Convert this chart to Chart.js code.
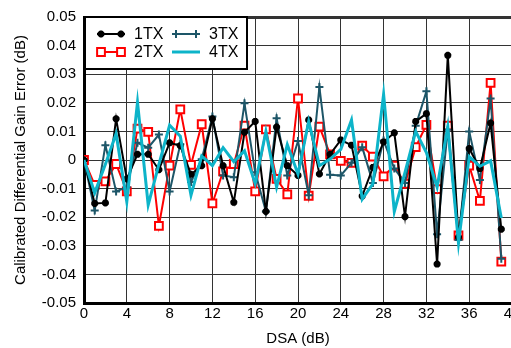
<!DOCTYPE html>
<html>
<head>
<meta charset="utf-8">
<script src="https://cdn.jsdelivr.net/npm/chart.js@4"></script>
<style>
  html, body { margin: 0; padding: 0; background: #fff; }
  #wrap { width: 511px; height: 348px; overflow: hidden; position: relative; }
  #box { width: 530px; height: 348px; }
</style>
</head>
<body>
<div id="wrap"><div id="box"><canvas id="mychart"></canvas></div></div>
<script>
// DSA steps (dB)
let dsa = [0,1,2,3,4,5,6,7,8,9,10,11,12,13,14,15,16,17,18,19,20,21,22,23,24,25,26,27,28,29,30,31,32,33,34,35,36,37,38,39];

let seriesNames = ['1TX', '2TX', '3TX', '4TX'];

let tx1 = [0, -0.0152, -0.015, 0.0144, -0.0066, 0.002, 0.002, -0.0034, 0.006, 0.005,
  -0.005, -0.002, 0.0144, -0.002, -0.0148, 0.0097, 0.0135, -0.018, 0.0115, -0.002,
  -0.0054, 0.014, -0.0049, 0.002, 0.007, 0.0052, -0.0126, -0.0026, 0.0063, 0.0095,
  -0.0198, 0.0135, 0.0162, -0.0364, 0.0366, -0.027, 0.004, -0.003, 0.0129, -0.0242];

let tx2 = [0, -0.0087, -0.0075, -0.0014, -0.011, 0.011, 0.0098, -0.023, -0.002, 0.0177,
  -0.0017, 0.0125, -0.0152, -0.004, -0.0014, 0.012, -0.011, 0.0107, -0.0066, -0.012,
  0.0215, -0.0125, 0.0117, 0.002, -0.0003, -0.001, 0.005, 0.0012, -0.0057, -0.002,
  -0.0083, 0.0045, 0.0123, -0.0102, 0.012, -0.0264, -0.002, -0.0143, 0.027, -0.0355];

let tx3 = [0, -0.0177, 0.0052, -0.011, -0.0095, 0.006, 0.0043, 0.0089, -0.011, 0.0055,
  -0.0077, 0.0003, 0.0152, -0.0054, -0.006, 0.0198, -0.0043, -0.018, 0.0146, -0.0054,
  0.0066, -0.0123, 0.0255, -0.0052, -0.0054, -0.001, 0.0045, -0.008, 0.0068, -0.003,
  -0.008, 0.012, 0.024, -0.026, 0.0106, -0.028, 0.01, -0.007, 0.0215, -0.0345];

let tx4 = [0, -0.0115, -0.0015, 0.0092, -0.0146, 0.0202, -0.0157, -0.0015, 0.0122, 0.0083,
  -0.0123, 0.0014, -0.002, 0.0043, -0.0006, 0.0032, -0.0083, 0.01, -0.0095, 0.0054,
  -0.0049, 0.0135, -0.002, 0.0003, 0.0037, 0.014, -0.0137, -0.0083, 0.023, -0.018,
  -0.0043, 0.01, 0.0026, -0.0095, 0.0117, -0.029, 0.0012, -0.0022, -0.0003, -0.0203];

let xTicks = [0, 4, 8, 12, 16, 20, 24, 28, 32, 36, 40];
let yTicks = [-0.05, -0.04, -0.03, -0.02, -0.01, 0, 0.01, 0.02, 0.03, 0.04, 0.05];

let fontFam = '"Liberation Sans", Arial, Helvetica, sans-serif';

function pts(arr) {
  return dsa.map((x, i) => ({ x: x, y: arr[i] }));
}

let styles = [
  { color: '#000000', point: 'star', radius: 3.5, width: 2, order: 1, bg: '#000000', pw: 2.5 },
  { color: '#ff0000', point: 'rect', radius: 5.5, width: 2, order: 3, bg: '#ffffff', pw: 2 },
  { color: '#1d5668', point: 'cross', radius: 4, width: 2, order: 2, bg: '#1d5668', pw: 2 },
  { color: '#0db4c9', point: false, radius: 0, width: 3, order: 0, bg: '#0db4c9', pw: 0 }
];
let allData = [tx1, tx2, tx3, tx4];

let datasets = allData.map((arr, k) => ({
  label: seriesNames[k],
  data: pts(arr),
  borderColor: styles[k].color,
  backgroundColor: styles[k].bg,
  borderWidth: styles[k].width,
  pointStyle: styles[k].point,
  pointRadius: styles[k].radius,
  pointBorderWidth: styles[k].pw,
  pointBorderColor: styles[k].color,
  pointBackgroundColor: styles[k].bg,
  tension: 0,
  order: styles[k].order
}));

// legend box inside the plot, top-left
let boxLegend = {
  id: 'boxLegend',
  afterDatasetsDraw(chart) {
    let ctx = chart.ctx;
    let a = chart.chartArea;
    let x0 = a.left, y0 = a.top, w = 163, h = 52;
    ctx.save();
    ctx.fillStyle = '#fff';
    ctx.fillRect(x0, y0, w, h);
    ctx.strokeStyle = '#000';
    ctx.lineWidth = 2;
    ctx.strokeRect(x0 + 1, y0, w - 1, h);
    let cols = [x0 + 13, x0 + 88];
    let rows = [y0 + 17, y0 + 35];
    let pos = [[0, 0], [0, 1], [1, 0], [1, 1]];
    ctx.font = '16px ' + fontFam;
    ctx.textBaseline = 'middle';
    ctx.textAlign = 'left';
    for (let k = 0; k < 4; k++) {
      let lx = cols[pos[k][0]], ly = rows[pos[k][1]];
      let st = styles[k];
      ctx.strokeStyle = st.color;
      ctx.lineWidth = st.width;
      ctx.beginPath();
      ctx.moveTo(lx, ly);
      ctx.lineTo(lx + 28, ly);
      ctx.stroke();
      if (st.point && Chart.helpers && Chart.helpers.drawPoint) {
        let o = { pointStyle: st.point, radius: st.radius, borderWidth: st.pw, rotation: 0 };
        ctx.fillStyle = st.bg;
        ctx.strokeStyle = st.color;
        ctx.lineWidth = st.pw;
        Chart.helpers.drawPoint(ctx, o, lx + 4, ly);
        ctx.fillStyle = st.bg;
        ctx.strokeStyle = st.color;
        ctx.lineWidth = st.pw;
        Chart.helpers.drawPoint(ctx, o, lx + 24, ly);
      }
      ctx.fillStyle = '#000';
      ctx.fillText(seriesNames[k], lx + 37, ly + 1);
    }
    ctx.restore();
  }
};

let mychart = document.getElementById('mychart').getContext('2d');
let obj = new Chart(mychart, {
  type: 'line',
  data: { datasets: datasets },
  options: {
    responsive: true,
    maintainAspectRatio: false,
    animation: false,
    devicePixelRatio: 1,
    layout: { padding: { left: 8, right: 18, top: 12, bottom: 0 } },
    plugins: { legend: { display: false }, tooltip: { enabled: false } },
    scales: {
      x: {
        type: 'linear',
        min: 0,
        max: 40,
        afterBuildTicks: s => { s.ticks = xTicks.map(v => ({ value: v })); },
        afterFit: s => { s.height = 45; s.paddingRight = 0; },
        ticks: {
          color: '#000',
          padding: 2,
          maxRotation: 0,
          font: { family: fontFam, size: 15 },
          callback: v => String(v)
        },
        grid: { color: '#333', lineWidth: 1, drawTicks: false },
        border: { color: '#000', width: 3 },
        title: {
          display: true,
          text: 'DSA (dB)',
          color: '#000',
          padding: { top: 0, bottom: 0 },
          font: { family: fontFam, size: 15 }
        }
      },
      y: {
        type: 'linear',
        min: -0.05,
        max: 0.05,
        afterBuildTicks: s => { s.ticks = yTicks.map(v => ({ value: v })); },
        afterFit: s => { s.width = 76; },
        ticks: {
          color: '#000',
          padding: 8,
          font: { family: fontFam, size: 15 },
          callback: v => (Math.abs(v) < 1e-9 ? '0' : v.toFixed(2))
        },
        grid: {
          color: '#333',
          drawTicks: false,
          lineWidth: c => (c.tick && Math.abs(c.tick.value - 0.05) < 1e-9 ? 3 : 1)
        },
        border: { color: '#000', width: 3 },
        title: {
          display: true,
          text: 'Calibrated Differential Gain Error (dB)',
          color: '#000',
          padding: { top: 4, bottom: 4 },
          font: { family: fontFam, size: 15 }
        }
      }
    }
  },
  plugins: [boxLegend]
});
</script>
</body>
</html>
